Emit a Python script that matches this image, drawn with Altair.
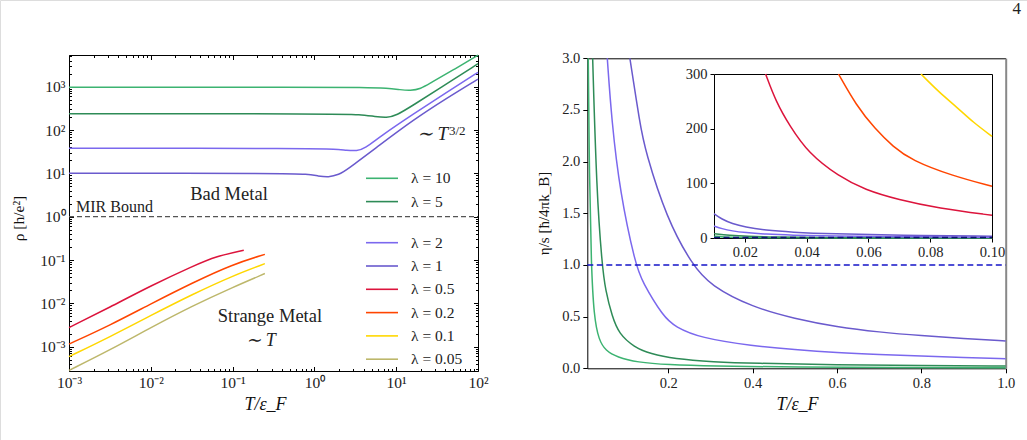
import altair as alt
import pandas as pd

SERIF = "Liberation Serif"

# ---------------- data ----------------
LAMBDAS = ["10", "5", "2", "1", "0.5", "0.2", "0.1", "0.05"]
LINE_COLORS = ["#3CB371", "#2E8B57", "#7B68EE", "#6A5ACD",
               "#DC143C", "#FF4500", "#FFD700", "#BDB76B"]

# left panel: resistivity rho vs T/eF (bad metal, lambda = 10, 5, 2, 1)
T_L10 = [0.001, 1.0, 3.98, 7.94, 11.2, 14.9, 20.0, 25.9, 49.9, 100.0]
R_L10 = [968, 968, 964, 923, 851, 809, 891, 1200, 2430, 5330]
T_L5 = [0.001, 2.0, 3.55, 5.62, 7.66, 10.0, 16.2, 34.3, 100.0]
R_L5 = [237, 237, 229, 204, 193, 214, 378, 918, 3400]
T_L2 = [0.001, 1.0, 1.78, 2.51, 3.29, 4.17, 6.31, 16.2, 41.4, 100.0]
R_L2 = [37.9, 37.9, 36.3, 33.9, 32.8, 38.0, 70.1, 234, 741, 2150]
T_L1 = [0.001, 0.50, 0.79, 1.12, 1.48, 2.0, 2.48, 6.31, 16.2, 41.4, 100.0]
R_L1 = [10.0, 10.0, 9.55, 8.71, 8.11, 9.33, 12.0, 45.2, 171, 540, 1490]
# left panel: strange metal (lambda = 0.5, 0.2, 0.1, 0.05)
T_S05 = [0.001, 0.00317, 0.01, 0.033, 0.0637, 0.137]
R_S05 = [0.00276, 0.00818, 0.0255, 0.0729, 0.123, 0.169]
T_S = [0.001, 0.00317, 0.01, 0.033, 0.1, 0.248]
R_S02 = [0.00115, 0.00312, 0.00975, 0.0304, 0.0796, 0.135]
R_S01 = [0.000592, 0.00169, 0.00527, 0.0165, 0.0432, 0.0824]
R_S005 = [0.000284, 0.000839, 0.00276, 0.00893, 0.0234, 0.0488]

# right panel: eta/s vs T/eF
T_E10 = [0.0103, 0.013, 0.0174, 0.0237, 0.0356, 0.0514, 0.079, 0.126, 0.2, 0.3, 0.5, 0.75, 1.0]
E_E10 = [3.0, 1.84, 1.0, 0.5, 0.27, 0.172, 0.107, 0.058, 0.034, 0.021, 0.011, 0.007, 0.005]
T_E5 = [0.0207, 0.03, 0.043, 0.051, 0.067, 0.083, 0.119, 0.158, 0.213, 0.308, 0.4, 0.6, 0.8, 1.0]
E_E5 = [3.0, 1.72, 1.0, 0.756, 0.5, 0.334, 0.205, 0.14, 0.091, 0.062, 0.048, 0.034, 0.027, 0.022]
T_E2 = [0.0554, 0.0657, 0.0855, 0.1225, 0.138, 0.188, 0.217, 0.275, 0.4, 0.5, 0.6, 0.7, 0.8, 0.9, 1.0]
E_E2 = [3.0, 2.40, 1.70, 1.0, 0.84, 0.5, 0.40, 0.295, 0.216, 0.18, 0.151, 0.133, 0.119, 0.105, 0.093]
T_E1 = [0.109, 0.133, 0.145, 0.196, 0.257, 0.3, 0.4, 0.5, 0.6, 0.7, 0.8, 0.9, 1.0]
E_E1 = [3.0, 2.36, 2.11, 1.45, 1.0, 0.80, 0.59, 0.48, 0.40, 0.35, 0.315, 0.288, 0.264]

# inset: eta/s for 0.01 < T < 0.1
T_I05 = [0.0267, 0.030, 0.0345, 0.0406, 0.0503, 0.0589, 0.0697, 0.0826, 0.1]
E_I05 = [300, 250, 205, 155, 113, 88, 70, 54.5, 41.5]
T_I02 = [0.0503, 0.056, 0.0622, 0.068, 0.074, 0.087, 0.1]
E_I02 = [300, 243, 199, 167, 142, 114, 94.5]
T_I01 = [0.077, 0.083, 0.0885, 0.094, 0.1]
E_I01 = [300, 266, 240, 211, 186]
T_I1 = [0.01, 0.0125, 0.0159, 0.02, 0.0267, 0.035, 0.0482, 0.07, 0.1]
E_I1 = [44.5, 34.5, 26.2, 20.2, 14.0, 10.6, 7.6, 5.0, 3.3]
T_I2 = [0.01, 0.0125, 0.0159, 0.02, 0.0267, 0.035, 0.0482, 0.07, 0.1]
E_I2 = [22.0, 17.0, 12.8, 9.9, 7.0, 5.2, 3.6, 2.3, 1.35]
T_I5 = [0.01, 0.015, 0.0207, 0.03, 0.043, 0.06, 0.08, 0.1]
E_I5 = [8.0, 4.9, 3.0, 1.72, 1.0, 0.6, 0.36, 0.26]
T_I10 = [0.01, 0.013, 0.0174, 0.0237, 0.0356, 0.0514, 0.079, 0.1]
E_I10 = [3.4, 1.84, 1.0, 0.5, 0.27, 0.172, 0.107, 0.085]

X_MAJOR_L = [1e-3, 1e-2, 1e-1, 1e0, 1e1, 1e2]
Y_MAJOR_L = [1e-3, 1e-2, 1e-1, 1e0, 1e1, 1e2, 1e3]
X_TICKS_R = [0.2, 0.4, 0.6, 0.8, 1.0]
Y_TICKS_R = [0.0, 0.5, 1.0, 1.5, 2.0, 2.5, 3.0]
X_TICKS_I = [0.02, 0.04, 0.06, 0.08, 0.10]
Y_TICKS_I = [0, 100, 200, 300]

# ---------------- geometry (pixels on the 1027x440 canvas) ----------------
W, H = 1027, 440
XL_DOM, YL_DOM = [1e-3, 1e2], [2.75e-4, 5383]
XL_RNG, YL_RNG = [69, 478], [371, 55]
XR_DOM, YR_DOM = [0.008, 1.0], [0.0, 3.0]
XR_RNG, YR_RNG = [587.3, 1005.7], [368.3, 58.3]
XI_DOM, YI_DOM = [0.01, 0.1], [0, 300]
XI_RNG, YI_RNG = [714, 992], [238, 74]

X_MINOR_L = [k * 10.0 ** d for d in range(-3, 2) for k in range(2, 10)]
Y_MINOR_L = [k * 10.0 ** d for d in range(-4, 4) for k in range(2, 10)
             if YL_DOM[0] <= k * 10.0 ** d <= YL_DOM[1]]

xL = alt.Scale(type="log", domain=XL_DOM, range=XL_RNG, nice=False)
yL = alt.Scale(type="log", domain=YL_DOM, range=YL_RNG, nice=False)
xR = alt.Scale(domain=XR_DOM, range=XR_RNG, nice=False, zero=False)
yR = alt.Scale(domain=YR_DOM, range=YR_RNG, nice=False, zero=False)
xI = alt.Scale(domain=XI_DOM, range=XI_RNG, nice=False, zero=False)
yI = alt.Scale(domain=YI_DOM, range=YI_RNG, nice=False, zero=False)

SUP = ("'10' + ['⁻⁴','⁻³','⁻²','⁻¹','⁰','¹','²','³']"
       "[round(log(datum.value)/LN10)+4]")
INTERP = "basis"


def lab(l):
    return f"λ = {l}"


def curves(items):
    rows = []
    for lam, ts, vs in items:
        for i, (t, v) in enumerate(zip(ts, vs)):
            rows.append({"T": t, "v": v, "lam": lab(lam), "i": i})
    return pd.DataFrame(rows)


def axis(**kw):
    base = dict(grid=False, labelFont=SERIF, labelFontSize=15, labelColor="#222",
                domainColor="black", tickColor="black", domainWidth=1, tickWidth=1,
                labelFlush=False, labelOverlap=False, titleFont=SERIF,
                titleFontWeight="normal", titleColor="#111", title=None)
    base.update(kw)
    return alt.Axis(**base)


def guide(xs, ys, ax_x, ax_y, xdom, ydom):
    df = pd.DataFrame({"T": xdom, "v": ydom})
    return alt.Chart(df).mark_point(opacity=0).encode(
        x=alt.X("T:Q", scale=xs, axis=ax_x), y=alt.Y("v:Q", scale=ys, axis=ax_y))


def cmap(lams):
    return alt.Scale(domain=[lab(l) for l in lams],
                     range=[LINE_COLORS[LAMBDAS.index(l)] for l in lams])


# ---------------- left panel ----------------
axLx = axis(orient="bottom", offset=-(H - 371), values=X_MAJOR_L, labelExpr=SUP,
            ticks=False, tickSize=0, labelPadding=4, labelFontSize=15.5,
            title="T/ε_F", titleX=265, titleY=33, titleFontSize=18,
            titleFontStyle="italic", titleBaseline="middle", titleAlign="center")
axLy = axis(orient="left", offset=-69, values=Y_MAJOR_L, labelExpr=SUP,
            ticks=False, tickSize=0, labelPadding=4, labelFontSize=15.5,
            title="ρ [h/e²]", titleX=-51, titleY=218, titleFontSize=15.5,
            titleBaseline="middle", titleAlign="center", titleAngle=270)

dfA = curves([("10", T_L10, R_L10), ("5", T_L5, R_L5)])
dfB = curves([("2", T_L2, R_L2), ("1", T_L1, R_L1), ("0.5", T_S05, R_S05),
              ("0.2", T_S, R_S02), ("0.1", T_S, R_S01), ("0.05", T_S, R_S005)])

leg_common = dict(title=None, orient="none", legendX=373, symbolType="M-2,0H2",
                  symbolSize=256, symbolStrokeWidth=1.6, labelFont=SERIF,
                  labelFontSize=15.5, labelColor="#222", labelOffset=20,
                  rowPadding=5.3, padding=0)

lineA = alt.Chart(dfA).mark_line(strokeWidth=1.5, interpolate=INTERP).encode(
    x=alt.X("T:Q", scale=xL, axis=axLx), y=alt.Y("v:Q", scale=yL, axis=axLy),
    color=alt.Color("lam:N", scale=cmap(["10", "5"]),
                    legend=alt.Legend(legendY=169.3, **leg_common)),
    order="i:Q")
lineB = alt.Chart(dfB).mark_line(strokeWidth=1.5, interpolate=INTERP).encode(
    x=alt.X("T:Q", scale=xL, axis=axLx), y=alt.Y("v:Q", scale=yL, axis=axLy),
    color=alt.Color("lam:N", scale=cmap(["2", "1", "0.5", "0.2", "0.1", "0.05"]),
                    legend=alt.Legend(legendY=233.7, **leg_common)),
    order="i:Q")

mir = alt.Chart(pd.DataFrame({"T": [XL_DOM[0]], "T2": [XL_DOM[1]], "v": [1.0]})).mark_rule(
    color="#555", strokeDash=[5, 3], strokeWidth=1.3).encode(
    x=alt.X("T:Q", scale=xL, axis=axLx), x2="T2:Q", y=alt.Y("v:Q", scale=yL, axis=axLy))


def ann(texts, ts, vs, size, align, style="normal"):
    df = pd.DataFrame({"T": ts, "v": vs, "txt": texts})
    return alt.Chart(df).mark_text(font=SERIF, fontSize=size, align=align,
                                   baseline="middle", fontStyle=style, color="#222").encode(
        x=alt.X("T:Q", scale=xL, axis=axLx), y=alt.Y("v:Q", scale=yL, axis=axLy),
        text="txt:N")


ann1 = ann(["Bad Metal", "Strange Metal"], [0.0903, 0.286], [3.34, 5.1e-3], 18.5, "center")
ann2 = ann(["MIR Bound"], [1.22e-3], [1.67], 16, "left")
ann3 = ann(["3/2"], [44.2], [95], 13, "left")
ann4 = ann(["∼ T"], [43.0], [78.9], 19, "right", "italic")
ann5 = ann(["∼ T"], [0.222], [1.35e-3], 18, "center", "italic")

left_group = alt.layer(lineA, lineB, mir, ann1, ann2, ann3, ann4, ann5).resolve_scale(
    color="independent")

# inward ticks and frame of the left panel
L_dom = (XL_DOM, YL_DOM)
gL1 = guide(xL, yL,
            axis(orient="top", offset=-371, values=X_MAJOR_L, labels=False, domain=False, tickSize=4.5),
            axis(orient="right", offset=-(W - 69), values=Y_MAJOR_L, labels=False, domain=False, tickSize=4.5),
            *L_dom)
gL2 = guide(xL, yL,
            axis(orient="top", offset=-371, values=X_MINOR_L, labels=False, domain=False, tickSize=2.5),
            axis(orient="right", offset=-(W - 69), values=Y_MINOR_L, labels=False, domain=False, tickSize=2.5),
            *L_dom)
gL3 = guide(xL, yL,
            axis(orient="bottom", offset=-(H - 55), values=X_MAJOR_L, labels=False, tickSize=4.5),
            axis(orient="left", offset=-478, values=Y_MAJOR_L, labels=False, tickSize=4.5),
            *L_dom)
gL4 = guide(xL, yL,
            axis(orient="bottom", offset=-(H - 55), values=X_MINOR_L, labels=False, domain=False, tickSize=2.5),
            axis(orient="left", offset=-478, values=Y_MINOR_L, labels=False, domain=False, tickSize=2.5),
            *L_dom)

# ---------------- right panel ----------------
axRx = axis(orient="bottom", offset=-(H - 368.3), values=X_TICKS_R, format=".1f",
            tickSize=4.5, labelPadding=4, labelFontSize=14.5, title="T/ε_F",
            titleX=797, titleY=36, titleFontSize=18, titleFontStyle="italic",
            titleBaseline="middle", titleAlign="center")
axRy = axis(orient="left", offset=-587.3, values=Y_TICKS_R, format=".1f",
            tickSize=4.5, labelPadding=3, labelFontSize=14.5, title="η/s [ħ/4πk_B]",
            titleX=-44, titleY=213, titleFontSize=15, titleBaseline="middle",
            titleAlign="center", titleAngle=270)

dfR = curves([("10", T_E10, E_E10), ("5", T_E5, E_E5), ("2", T_E2, E_E2), ("1", T_E1, E_E1)])
lineR = alt.Chart(dfR).mark_line(strokeWidth=1.5, interpolate=INTERP).encode(
    x=alt.X("T:Q", scale=xR, axis=axRx), y=alt.Y("v:Q", scale=yR, axis=axRy),
    color=alt.Color("lam:N", scale=cmap(["10", "5", "2", "1"]), legend=None),
    order="i:Q")
dashR = alt.Chart(pd.DataFrame({"T": [XR_DOM[0]], "T2": [XR_DOM[1]], "v": [1.0]})).mark_rule(
    color="#1515c8", strokeDash=[6, 3.5], strokeWidth=1.6).encode(
    x=alt.X("T:Q", scale=xR, axis=axRx), x2="T2:Q", y=alt.Y("v:Q", scale=yR, axis=axRy))
right_group = alt.layer(lineR, dashR)

gR = guide(xR, yR,
           axis(orient="bottom", offset=-(H - 58.3), values=X_TICKS_R, labels=False, ticks=False, tickSize=0),
           axis(orient="left", offset=-1005.7, values=Y_TICKS_R, labels=False, ticks=False, tickSize=0,
                domainColor="#888", domainWidth=2),
           XR_DOM, YR_DOM)

# ---------------- inset ----------------
axIx = axis(orient="bottom", offset=-(H - 238), values=X_TICKS_I, format=".2f",
            tickSize=4, labelPadding=3, labelFontSize=14.5)
axIy = axis(orient="left", offset=-714, values=Y_TICKS_I, format="d",
            tickSize=4, labelPadding=3, labelFontSize=14.5)
dfI = curves([("10", T_I10, E_I10), ("5", T_I5, E_I5), ("2", T_I2, E_I2), ("1", T_I1, E_I1),
              ("0.5", T_I05, E_I05), ("0.2", T_I02, E_I02), ("0.1", T_I01, E_I01)])
lineI = alt.Chart(dfI).mark_line(strokeWidth=1.5, interpolate=INTERP).encode(
    x=alt.X("T:Q", scale=xI, axis=axIx), y=alt.Y("v:Q", scale=yI, axis=axIy),
    color=alt.Color("lam:N", scale=cmap(["10", "5", "2", "1", "0.5", "0.2", "0.1"]), legend=None),
    order="i:Q")
dashI = alt.Chart(pd.DataFrame({"T": [XI_DOM[0]], "T2": [XI_DOM[1]], "v": [1.0]})).mark_rule(
    color="#10107a", strokeDash=[6, 3.5], strokeWidth=1.6).encode(
    x=alt.X("T:Q", scale=xI, axis=axIx), x2="T2:Q", y=alt.Y("v:Q", scale=yI, axis=axIy))
inset_group = alt.layer(lineI, dashI)

gI = guide(xI, yI,
           axis(orient="bottom", offset=-(H - 74), values=X_TICKS_I, labels=False, ticks=False, tickSize=0),
           axis(orient="left", offset=-992, values=Y_TICKS_I, labels=False, ticks=False, tickSize=0),
           XI_DOM, YI_DOM)

chart = alt.layer(
    left_group, gL1, gL2, gL3, gL4, right_group, gR, inset_group, gI
).resolve_scale(
    x="independent", y="independent", color="independent"
).properties(
    width=W, height=H, padding=0,
    autosize=alt.AutoSizeParams(type="none"),
    title=alt.TitleParams("4", anchor="end", font=SERIF, fontSize=17,
                          fontWeight="normal", color="#222", dy=22, dx=-6),
).configure_view(stroke=None).configure(background="white")

chart.save("out.html", embed_options={"renderer": "svg", "actions": False})
